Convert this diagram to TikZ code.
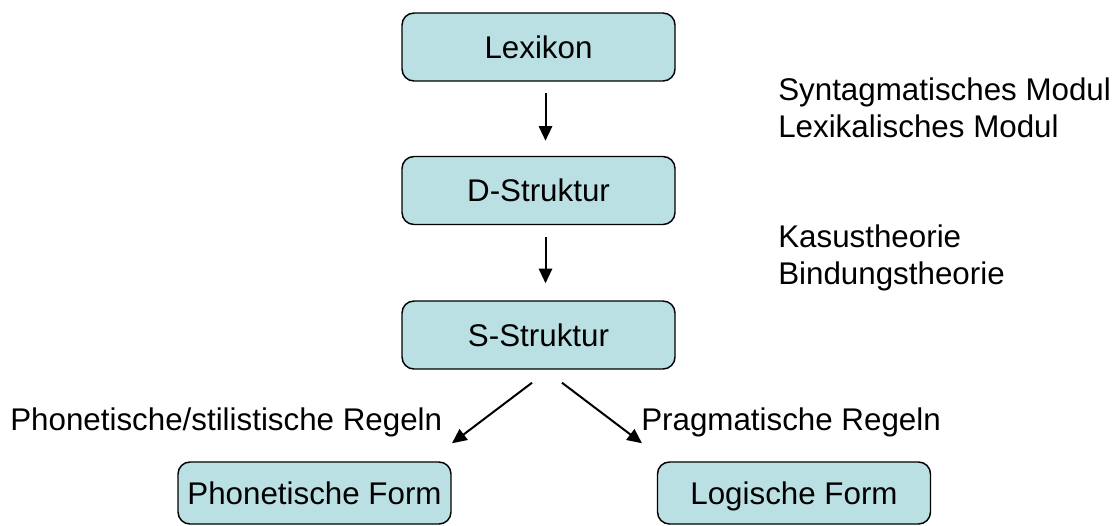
\documentclass[tikz,border=0pt]{standalone}
\usepackage{fontspec}
\setmainfont{Liberation Sans}
\usetikzlibrary{arrows.meta,calc}
\definecolor{boxfill}{RGB}{187,224,227}
\begin{document}
\begin{tikzpicture}[x=0.75pt,y=-0.75pt,
  box/.style={draw=black, line width=1.1pt, fill=boxfill, rounded corners=9pt,
    minimum width=204.75pt, inner sep=0pt, text height=16.8pt, text depth=0pt,
    font=\fontsize{23.5}{28}\selectfont},
  topbox/.style={box, minimum height=51pt},
  lowbox/.style={box, minimum height=46.5pt},
  lbl/.style={anchor=base west, inner sep=0pt, font=\fontsize{23.5}{28}\selectfont},
  arr/.style={line width=1.5pt, -{Triangle[length=11pt,width=10pt]}}]
\useasboundingbox (0,0) rectangle (1120,525);

\node[topbox] (lex) at (538.5,47) {Lexikon};
\node[topbox] (ds) at (538.5,190.5) {D-Struktur};
\node[topbox] (ss) at (538.5,335) {S-Struktur};
\node[lowbox] (pf) at (314.5,493) {Phonetische Form};
\node[lowbox] (lf) at (794,493) {Logische Form};

\draw[arr] ($(lex.south)+(7,11)$) -- ($(ds.north)+(7,-15)$);
\draw[arr] ($(ds.south)+(7,12)$) -- ($(ss.north)+(7,-17)$);
\draw[arr] ($(ss.south)+(-6.5,13)$) -- ($(pf.north)+(137.5,-18)$);
\draw[arr] ($(ss.south)+(23.5,13)$) -- ($(lf.north)+(-152,-18)$);

\node[lbl] (t1) at (778,100) {Syntagmatisches Modul};
\node[lbl] (t2) at (778,137) {Lexikalisches Modul};
\node[lbl] (t3) at (778,247) {Kasustheorie};
\node[lbl] (t4) at (778,284) {Bindungstheorie};
\node[lbl] (t5) at (10,430) {Phonetische/stilistische Regeln};
\node[lbl] (t6) at (641,430) {Pragmatische Regeln};
\end{tikzpicture}
\end{document}
